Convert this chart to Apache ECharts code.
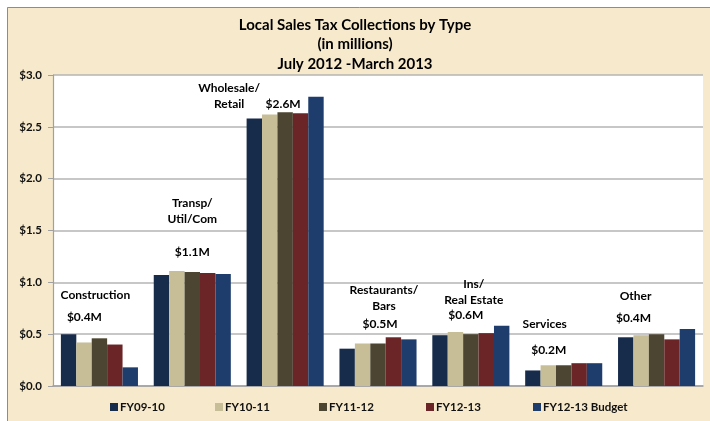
<!DOCTYPE html>
<html>
<head>
<meta charset="utf-8">
<script src="https://cdn.jsdelivr.net/npm/echarts@6/dist/echarts.min.js"></script>
<style>
  html, body { margin: 0; padding: 0; background: #ffffff; }
  #chart { width: 710px; height: 421px; }
</style>
</head>
<body>
<div id="chart"></div>
<script>
// ---- Data ----
const categories = ['Construction', 'Transp/Util/Com', 'Wholesale/Retail', 'Restaurants/Bars', 'Ins/Real Estate', 'Services', 'Other'];
const seriesNames = ['FY09-10', 'FY10-11', 'FY11-12', 'FY12-13', 'FY12-13 Budget'];
const fy0910 = [0.50, 1.07, 2.58, 0.36, 0.49, 0.15, 0.47];
const fy1011 = [0.42, 1.11, 2.62, 0.41, 0.52, 0.20, 0.49];
const fy1112 = [0.46, 1.10, 2.64, 0.41, 0.50, 0.20, 0.50];
const fy1213 = [0.40, 1.09, 2.63, 0.47, 0.51, 0.22, 0.45];
const fy1213Budget = [0.18, 1.08, 2.79, 0.45, 0.58, 0.22, 0.55];
const groupNames = ['Construction', 'Transp/\nUtil/Com', 'Wholesale/\nRetail', 'Restaurants/\nBars', 'Ins/\nReal Estate', 'Services', 'Other'];
const groupTotals = ['$0.4M', '$1.1M', '$2.6M', '$0.5M', '$0.6M', '$0.2M', '$0.4M'];
const yTicks = [0, 0.5, 1.0, 1.5, 2.0, 2.5, 3.0];

// ---- Annotation placement (value-axis height, pixel x shift) ----
const nameAt = [0.88, 1.69, 2.80, 0.85, 0.91, 0.60, 0.87];
const nameShift = [-4, 0, -56, 6, 3, -19, -21];
const totalAt = [0.66, 1.29, 2.72, 0.60, 0.68, 0.35, 0.65];
const totalShift = [-15, 0, -2, 2, -5, -15, -23];
const legendLeft = [110, 215, 319, 426, 533];

const colors = ['#172b4b', '#c7be97', '#4b4531', '#6c2527', '#1f3d6c'];
const allSeries = [fy0910, fy1011, fy1112, fy1213, fy1213Budget];
const FONT = 'Lato';

const chart = echarts.init(document.getElementById('chart'), null, { renderer: 'canvas' });

const barSeries = allSeries.map((vals, i) => ({
  name: seriesNames[i],
  type: 'bar',
  data: vals,
  barGap: '0%',
  barCategoryGap: '17%',
  itemStyle: { color: colors[i] },
  emphasis: { disabled: true }
}));

function noteSeries(texts, heights, shifts) {
  return {
    type: 'scatter',
    symbolSize: 0,
    silent: true,
    legendHoverLink: false,
    itemStyle: { opacity: 1 },
    data: texts.map((t, i) => ({
      value: [i, heights[i]],
      label: { offset: [shifts[i], 0] }
    })),
    label: {
      show: true,
      position: 'inside',
      formatter: p => texts[p.dataIndex],
      color: '#000',
      opacity: 1,
      textBorderWidth: 0,
      fontFamily: FONT,
      fontWeight: 'bold',
      fontSize: 12,
      lineHeight: 16,
      align: 'center',
      verticalAlign: 'middle'
    },
    z: 5
  };
}

const legends = seriesNames.map((n, i) => ({
  data: [n],
  left: legendLeft[i],
  top: 401,
  padding: 0,
  itemGap: 0,
  itemWidth: 8,
  itemHeight: 8,
  icon: 'rect',
  textStyle: {
    fontFamily: FONT,
    fontWeight: 'bold',
    fontSize: 11.5,
    color: '#111',
    padding: [0, 0, 0, -3]
  }
}));

const option = {
  backgroundColor: '#f7e9cb',
  animation: false,
  color: colors,
  title: {
    text: 'Local Sales Tax Collections by Type\n(in millions)\nJuly 2012 -March 2013',
    left: 'center',
    top: 10,
    textStyle: {
      fontFamily: FONT,
      fontWeight: 'bold',
      fontSize: 15,
      lineHeight: 19.5,
      color: '#000'
    }
  },
  graphic: [{
    type: 'rect',
    shape: { x: 7.5, y: 7.5, width: 720, height: 430 },
    style: { fill: null, stroke: '#8c8c8c', lineWidth: 1 },
    silent: true,
    z: -1
  }, {
    type: 'rect',
    shape: { x: 0, y: 0, width: 7, height: 421 },
    style: { fill: '#ffffff' }, silent: true, z: -2
  }, {
    type: 'rect',
    shape: { x: 0, y: 0, width: 710, height: 7 },
    style: { fill: '#ffffff' }, silent: true, z: -2
  }],
  legend: legends,
  grid: {
    left: 53,
    right: 7,
    top: 75,
    bottom: 35,
    show: true,
    backgroundColor: '#ffffff',
    borderWidth: 0
  },
  xAxis: {
    type: 'category',
    data: categories,
    axisLabel: { show: false },
    axisTick: { show: false },
    axisLine: { show: true, lineStyle: { color: '#a0a0a0', width: 1.5 } },
    splitLine: { show: false }
  },
  yAxis: {
    type: 'value',
    min: 0,
    max: 3,
    interval: 0.5,
    axisLabel: {
      formatter: v => '$' + v.toFixed(1),
      fontFamily: FONT,
      fontWeight: 'bold',
      fontSize: 11.5,
      color: '#111',
      margin: 11,
      customValues: yTicks
    },
    axisTick: { show: true, length: 5, lineStyle: { color: '#a0a0a0' }, customValues: yTicks },
    axisLine: { show: true, lineStyle: { color: '#a0a0a0', width: 1.2 } },
    splitLine: { show: true, lineStyle: { color: '#b4b4b4', width: 1.6 } }
  },
  series: [
    ...barSeries,
    noteSeries(groupNames, nameAt, nameShift),
    noteSeries(groupTotals, totalAt, totalShift)
  ]
};

chart.setOption(option);
</script>
</body>
</html>
